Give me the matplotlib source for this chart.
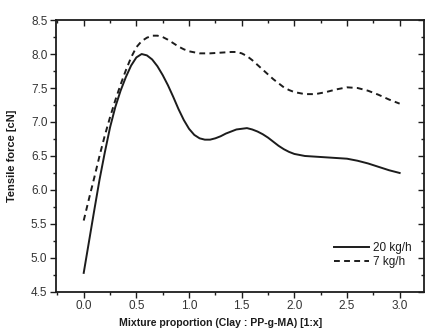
import matplotlib
matplotlib.use("Agg")
import matplotlib.pyplot as plt
from matplotlib.ticker import MultipleLocator

# Data (Clay : PP-g-MA proportion 1:x)
x_20 = [0.00, 0.05, 0.10, 0.15, 0.20, 0.25, 0.30, 0.35, 0.40, 0.45, 0.50, 0.55, 0.60, 0.65,
        0.70, 0.75, 0.80, 0.85, 0.90, 0.95, 1.00, 1.05, 1.10, 1.15, 1.20, 1.25, 1.30, 1.35,
        1.40, 1.45, 1.50, 1.55, 1.60, 1.65, 1.70, 1.75, 1.80, 1.85, 1.90, 1.95, 2.00, 2.10,
        2.20, 2.30, 2.40, 2.50, 2.60, 2.70, 2.80, 2.90, 3.00]
y_20 = [4.78, 5.24, 5.70, 6.15, 6.55, 6.92, 7.22, 7.46, 7.66, 7.83, 7.95, 8.00, 7.98, 7.92,
        7.82, 7.69, 7.54, 7.37, 7.19, 7.03, 6.90, 6.81, 6.76, 6.74, 6.74, 6.76, 6.79, 6.83,
        6.86, 6.89, 6.90, 6.91, 6.89, 6.86, 6.82, 6.77, 6.71, 6.65, 6.60, 6.56, 6.53, 6.50,
        6.49, 6.48, 6.47, 6.46, 6.43, 6.39, 6.34, 6.29, 6.25]

x_7 = [0.00, 0.05, 0.10, 0.15, 0.20, 0.25, 0.30, 0.35, 0.40, 0.45, 0.50, 0.55, 0.60, 0.65,
       0.70, 0.75, 0.80, 0.85, 0.90, 0.95, 1.00, 1.10, 1.20, 1.30, 1.40, 1.45, 1.50, 1.55,
       1.60, 1.65, 1.70, 1.75, 1.80, 1.85, 1.90, 1.95, 2.00, 2.10, 2.20, 2.30, 2.40, 2.50,
       2.60, 2.70, 2.80, 2.90, 3.00]
y_7 = [5.55, 5.87, 6.18, 6.50, 6.80, 7.07, 7.32, 7.55, 7.76, 7.95, 8.10, 8.19, 8.24, 8.27,
       8.27, 8.25, 8.21, 8.16, 8.11, 8.07, 8.04, 8.01, 8.01, 8.02, 8.03, 8.03, 8.01, 7.97,
       7.91, 7.84, 7.77, 7.70, 7.63, 7.57, 7.51, 7.47, 7.44, 7.41, 7.41, 7.44, 7.48, 7.51,
       7.50, 7.46, 7.40, 7.33, 7.27]

labels = ["20 kg/h", "7 kg/h"]
x_ticks = [0.0, 0.5, 1.0, 1.5, 2.0, 2.5, 3.0]
y_ticks = [4.5, 5.0, 5.5, 6.0, 6.5, 7.0, 7.5, 8.0, 8.5]

plt.rcParams['font.family'] = ['Liberation Sans', 'DejaVu Sans']
ink = '#1c1c1c'

fig = plt.figure(figsize=(4.26, 3.34), dpi=100)
ax = fig.add_axes([0.131, 0.126, 0.864, 0.814])

ax.plot(x_20, y_20, color=ink, lw=1.4, ls='-', label=labels[0],
        solid_joinstyle='round')
ax.plot(x_7, y_7, color=ink, lw=1.4, ls=(0, (3, 2.2)), label=labels[1],
        dash_joinstyle='round')

ax.set_xlim(-0.265, 3.23)
ax.set_ylim(4.5, 8.5)
ax.set_xticks(x_ticks)
ax.set_xticklabels([f"{v:.1f}" for v in x_ticks])
ax.set_yticks(y_ticks)
ax.set_yticklabels([f"{v:.1f}" for v in y_ticks])
ax.xaxis.set_minor_locator(MultipleLocator(0.25))
ax.yaxis.set_minor_locator(MultipleLocator(0.25))

for s in ax.spines.values():
    s.set_linewidth(1.3)
    s.set_color(ink)

ax.tick_params(which='both', direction='out', colors=ink, width=1.0,
               labelsize=8.5, labelcolor='#333333', top=False, right=False)
ax.tick_params(which='major', length=4, pad=2)
ax.tick_params(which='minor', length=2)

# mirrored inward ticks on top and right
axt = ax.secondary_xaxis('top')
axt.set_xticks(x_ticks)
axt.xaxis.set_minor_locator(MultipleLocator(0.25))
axt.tick_params(which='both', direction='in', labeltop=False, width=1.0, colors=ink)
axt.tick_params(which='major', length=4)
axt.tick_params(which='minor', length=2)
axr = ax.secondary_yaxis('right')
axr.set_yticks(y_ticks)
axr.yaxis.set_minor_locator(MultipleLocator(0.25))
axr.tick_params(which='both', direction='in', labelright=False, width=1.0, colors=ink)
axr.tick_params(which='major', length=4)
axr.tick_params(which='minor', length=2)
for sa in (axt, axr):
    for s in sa.spines.values():
        s.set_visible(False)

ax.set_xlabel("Mixture proportion (Clay : PP-g-MA) [1:x]", fontsize=7.6, fontweight='bold',
              color=ink)
ax.xaxis.set_label_coords(0.448, -0.095)
ax.set_ylabel("Tensile force [cN]", fontsize=8, fontweight='bold', color=ink)
ax.yaxis.set_label_coords(-0.105, 0.5)

leg = ax.legend(loc='lower right', frameon=False, fontsize=8.5, handlelength=3.0,
                handletextpad=0.35, labelspacing=0.15, borderaxespad=0.6,
                bbox_to_anchor=(1.0, 0.045))
for t in leg.get_texts():
    t.set_color(ink)

fig.savefig("out.png", dpi=100)
